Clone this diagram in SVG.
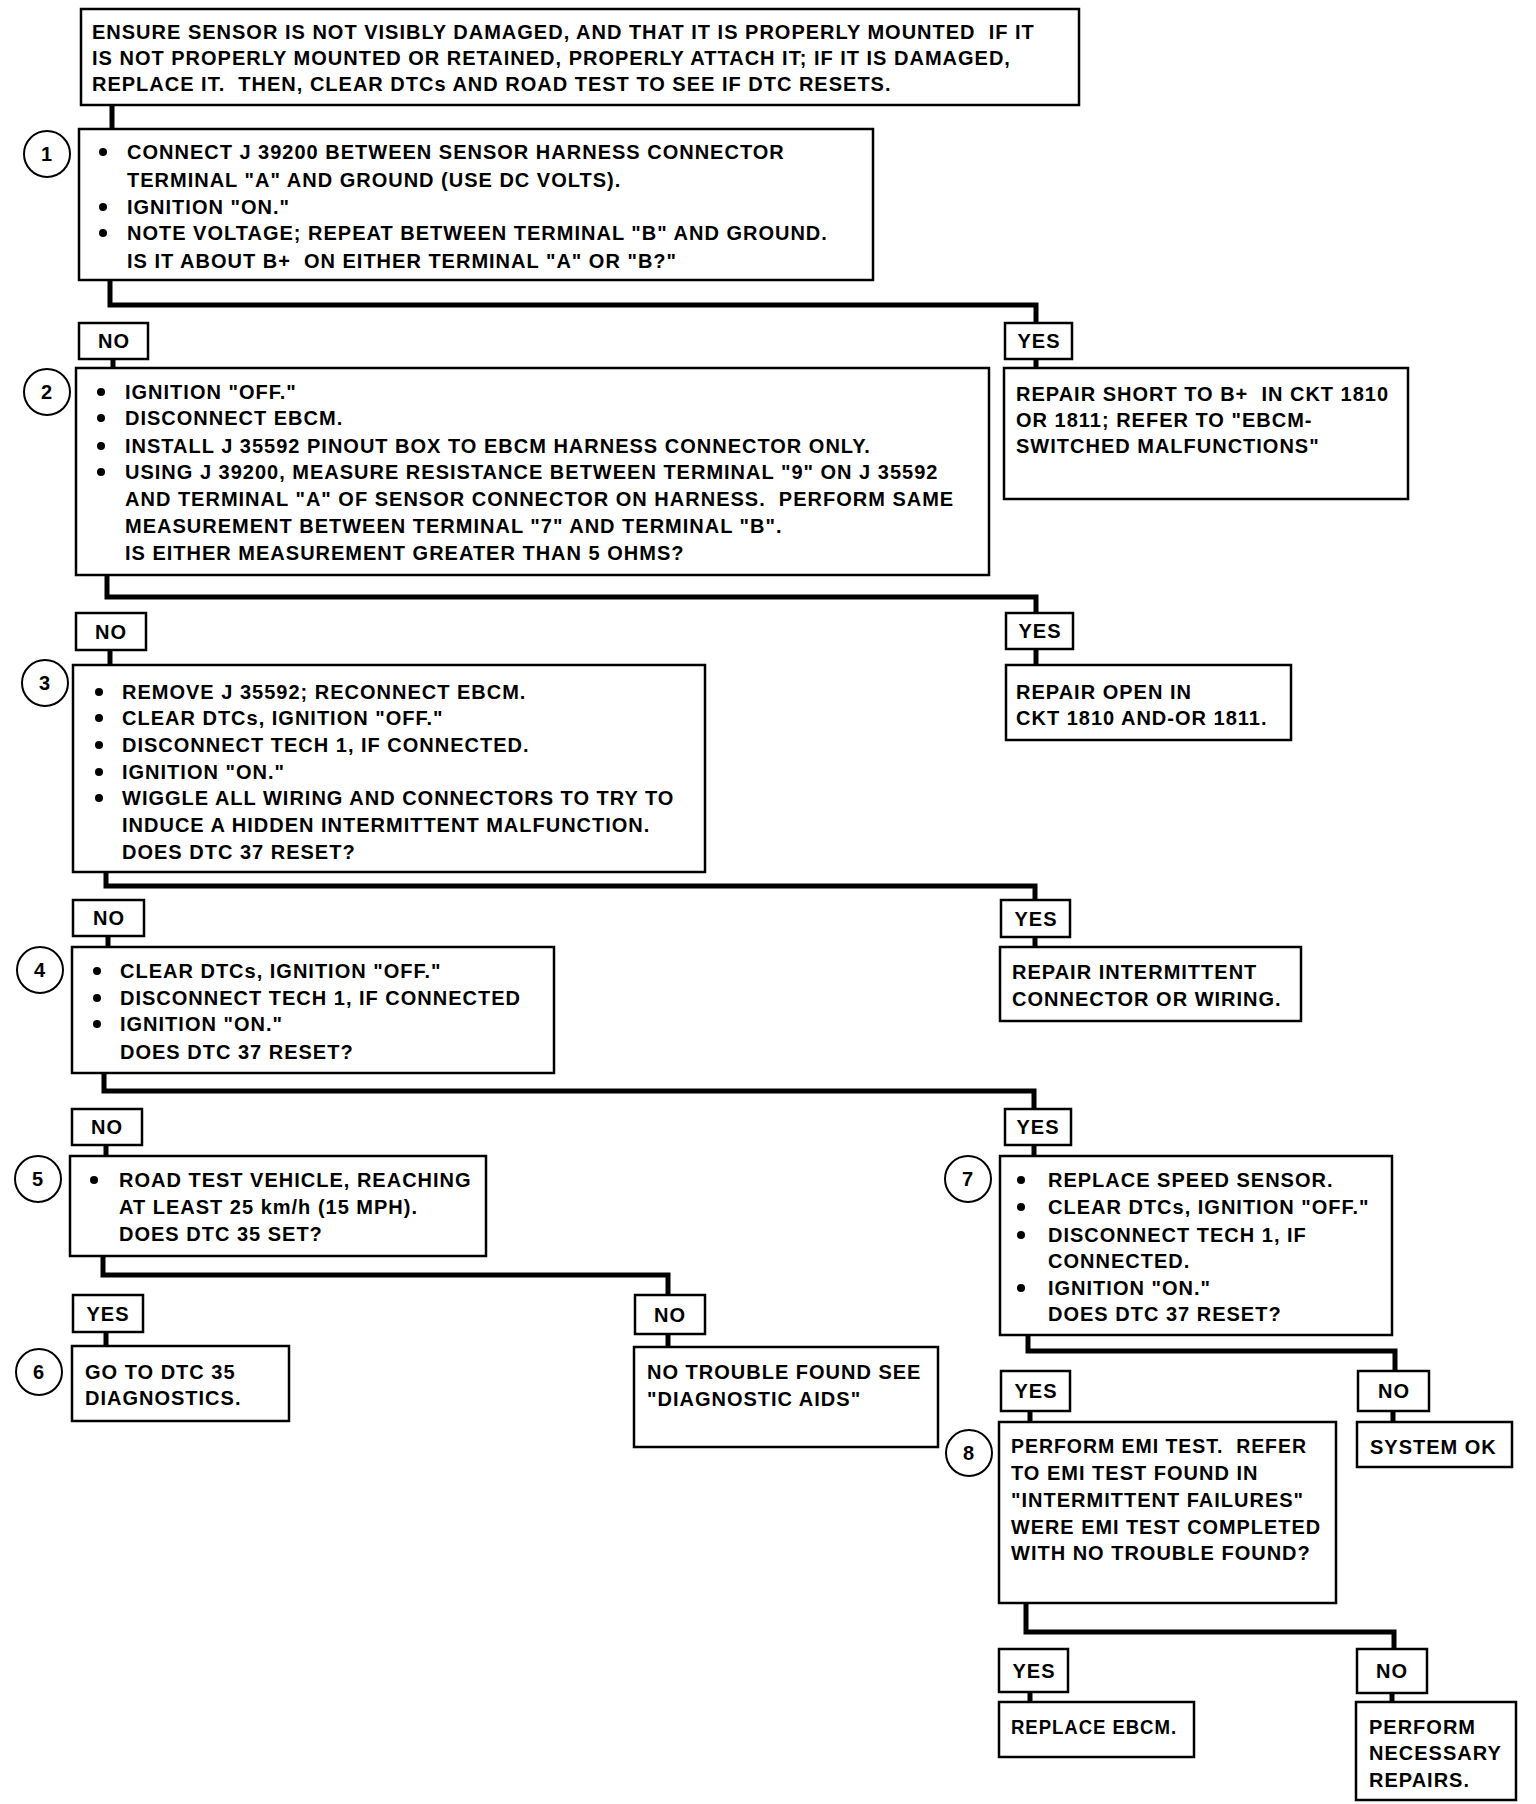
<svg xmlns="http://www.w3.org/2000/svg" width="1536" height="1804" viewBox="0 0 1536 1804" xml:space="preserve">
<style>
.box{fill:#fff;stroke:#000;stroke-width:2.5}
.lbl{fill:#fff;stroke:#000;stroke-width:2.5}
.c{fill:none;stroke:#000;stroke-width:5;stroke-linecap:square;stroke-linejoin:miter}
.t{font-family:"Liberation Sans",Arial,sans-serif;font-weight:bold;font-size:20px;letter-spacing:1px;fill:#000;white-space:pre}
.m{text-anchor:middle}
.num{fill:#fff;stroke:#000;stroke-width:2}
.b{fill:#000}
</style>
<rect width="1536" height="1804" fill="#fff"/>
<g id="connectors">
<path class="c" d="M112 105V129"/>
<path class="c" d="M110 280V305H1036V323"/>
<path class="c" d="M113 359V368"/>
<path class="c" d="M1036 359V368"/>
<path class="c" d="M107 575V597H1036V613"/>
<path class="c" d="M110 650V665"/>
<path class="c" d="M1036 649V665"/>
<path class="c" d="M106 872V886H1035V900"/>
<path class="c" d="M108 936V947"/>
<path class="c" d="M1035 937V947"/>
<path class="c" d="M104 1073V1091H1034V1109"/>
<path class="c" d="M106 1145V1156"/>
<path class="c" d="M1034 1145V1156"/>
<path class="c" d="M103 1256V1275H668V1295"/>
<path class="c" d="M106 1332V1346"/>
<path class="c" d="M668 1334V1347"/>
<path class="c" d="M1028 1335V1351H1395V1371"/>
<path class="c" d="M1030 1411V1422"/>
<path class="c" d="M1393 1411V1422"/>
<path class="c" d="M1026 1603V1632H1394V1649"/>
<path class="c" d="M1030 1692V1702"/>
<path class="c" d="M1392 1693V1702"/>
</g>
<g id="start">
<rect class="box" x="81" y="9" width="998" height="96"/>
<text class="t" x="92" y="39">ENSURE SENSOR IS NOT VISIBLY DAMAGED, AND THAT IT IS PROPERLY MOUNTED  IF IT</text>
<text class="t" x="92" y="65">IS NOT PROPERLY MOUNTED OR RETAINED, PROPERLY ATTACH IT; IF IT IS DAMAGED,</text>
<text class="t" x="92" y="91">REPLACE IT.  THEN, CLEAR DTCs AND ROAD TEST TO SEE IF DTC RESETS.</text>
</g>
<g id="step1">
<circle class="num" cx="47" cy="154" r="23"/>
<text class="t m" x="47" y="161">1</text>
<rect class="box" x="79" y="129" width="794" height="151"/>
<circle class="b" cx="103" cy="152" r="4"/>
<circle class="b" cx="103" cy="207" r="4"/>
<circle class="b" cx="103" cy="233" r="4"/>
<text class="t" x="127" y="159">CONNECT J 39200 BETWEEN SENSOR HARNESS CONNECTOR</text>
<text class="t" x="127" y="187">TERMINAL "A" AND GROUND (USE DC VOLTS).</text>
<text class="t" x="127" y="214">IGNITION "ON."</text>
<text class="t" x="127" y="240">NOTE VOLTAGE; REPEAT BETWEEN TERMINAL "B" AND GROUND.</text>
<text class="t" x="127" y="268">IS IT ABOUT B+  ON EITHER TERMINAL "A" OR "B?"</text>
</g>
<g id="no1"><rect class="lbl" x="79" y="323" width="69" height="36"/><text class="t m" x="114" y="348">NO</text></g>
<g id="yes1"><rect class="lbl" x="1005" y="323" width="67" height="36"/><text class="t m" x="1039" y="348">YES</text></g>
<g id="step2">
<circle class="num" cx="47" cy="392" r="23"/>
<text class="t m" x="47" y="399">2</text>
<rect class="box" x="76" y="368" width="913" height="207"/>
<circle class="b" cx="101" cy="392" r="4"/>
<circle class="b" cx="101" cy="418" r="4"/>
<circle class="b" cx="101" cy="446" r="4"/>
<circle class="b" cx="101" cy="472" r="4"/>
<text class="t" x="125" y="399">IGNITION "OFF."</text>
<text class="t" x="125" y="425">DISCONNECT EBCM.</text>
<text class="t" x="125" y="453">INSTALL J 35592 PINOUT BOX TO EBCM HARNESS CONNECTOR ONLY.</text>
<text class="t" x="125" y="479">USING J 39200, MEASURE RESISTANCE BETWEEN TERMINAL "9" ON J 35592</text>
<text class="t" x="125" y="506">AND TERMINAL "A" OF SENSOR CONNECTOR ON HARNESS.  PERFORM SAME</text>
<text class="t" x="125" y="533">MEASUREMENT BETWEEN TERMINAL "7" AND TERMINAL "B".</text>
<text class="t" x="125" y="560">IS EITHER MEASUREMENT GREATER THAN 5 OHMS?</text>
</g>
<g id="repairShort">
<rect class="box" x="1004" y="368" width="404" height="131"/>
<text class="t" x="1016" y="401">REPAIR SHORT TO B+  IN CKT 1810</text>
<text class="t" x="1016" y="427">OR 1811; REFER TO "EBCM-</text>
<text class="t" x="1016" y="453">SWITCHED MALFUNCTIONS"</text>
</g>
<g id="no2"><rect class="lbl" x="76" y="613" width="70" height="37"/><text class="t m" x="111" y="639">NO</text></g>
<g id="yes2"><rect class="lbl" x="1006" y="613" width="67" height="36"/><text class="t m" x="1040" y="638">YES</text></g>
<g id="step3">
<circle class="num" cx="45" cy="683" r="23"/>
<text class="t m" x="45" y="690">3</text>
<rect class="box" x="73" y="665" width="632" height="207"/>
<circle class="b" cx="99" cy="692" r="4"/>
<circle class="b" cx="99" cy="718" r="4"/>
<circle class="b" cx="99" cy="745" r="4"/>
<circle class="b" cx="99" cy="772" r="4"/>
<circle class="b" cx="99" cy="798" r="4"/>
<text class="t" x="122" y="699">REMOVE J 35592; RECONNECT EBCM.</text>
<text class="t" x="122" y="725">CLEAR DTCs, IGNITION "OFF."</text>
<text class="t" x="122" y="752">DISCONNECT TECH 1, IF CONNECTED.</text>
<text class="t" x="122" y="779">IGNITION "ON."</text>
<text class="t" x="122" y="805">WIGGLE ALL WIRING AND CONNECTORS TO TRY TO</text>
<text class="t" x="122" y="832">INDUCE A HIDDEN INTERMITTENT MALFUNCTION.</text>
<text class="t" x="122" y="859">DOES DTC 37 RESET?</text>
</g>
<g id="repairOpen">
<rect class="box" x="1006" y="665" width="285" height="75"/>
<text class="t" x="1016" y="699">REPAIR OPEN IN</text>
<text class="t" x="1016" y="725">CKT 1810 AND-OR 1811.</text>
</g>
<g id="no3"><rect class="lbl" x="73" y="900" width="71" height="36"/><text class="t m" x="109" y="925">NO</text></g>
<g id="yes3"><rect class="lbl" x="1001" y="900" width="69" height="37"/><text class="t m" x="1036" y="926">YES</text></g>
<g id="step4">
<circle class="num" cx="40" cy="970" r="23"/>
<text class="t m" x="40" y="977">4</text>
<rect class="box" x="72" y="947" width="482" height="126"/>
<circle class="b" cx="97" cy="971" r="4"/>
<circle class="b" cx="97" cy="998" r="4"/>
<circle class="b" cx="97" cy="1024" r="4"/>
<text class="t" x="120" y="978">CLEAR DTCs, IGNITION "OFF."</text>
<text class="t" x="120" y="1005">DISCONNECT TECH 1, IF CONNECTED</text>
<text class="t" x="120" y="1031">IGNITION "ON."</text>
<text class="t" x="120" y="1059">DOES DTC 37 RESET?</text>
</g>
<g id="repairIntermittent">
<rect class="box" x="1000" y="947" width="301" height="74"/>
<text class="t" x="1012" y="979">REPAIR INTERMITTENT</text>
<text class="t" x="1012" y="1006">CONNECTOR OR WIRING.</text>
</g>
<g id="no4"><rect class="lbl" x="72" y="1109" width="70" height="36"/><text class="t m" x="107" y="1134">NO</text></g>
<g id="yes4"><rect class="lbl" x="1005" y="1109" width="66" height="36"/><text class="t m" x="1038" y="1134">YES</text></g>
<g id="step5">
<circle class="num" cx="38" cy="1179" r="23"/>
<text class="t m" x="38" y="1186">5</text>
<rect class="box" x="70" y="1156" width="416" height="100"/>
<circle class="b" cx="94" cy="1180" r="4"/>
<text class="t" x="119" y="1187">ROAD TEST VEHICLE, REACHING</text>
<text class="t" x="119" y="1214">AT LEAST 25 km/h (15 MPH).</text>
<text class="t" x="119" y="1241">DOES DTC 35 SET?</text>
</g>
<g id="step7">
<circle class="num" cx="968" cy="1179" r="23"/>
<text class="t m" x="968" y="1186">7</text>
<rect class="box" x="1000" y="1156" width="392" height="179"/>
<circle class="b" cx="1021" cy="1180" r="4"/>
<circle class="b" cx="1021" cy="1207" r="4"/>
<circle class="b" cx="1021" cy="1235" r="4"/>
<circle class="b" cx="1021" cy="1288" r="4"/>
<text class="t" x="1048" y="1187">REPLACE SPEED SENSOR.</text>
<text class="t" x="1048" y="1214">CLEAR DTCs, IGNITION "OFF."</text>
<text class="t" x="1048" y="1242">DISCONNECT TECH 1, IF</text>
<text class="t" x="1048" y="1268">CONNECTED.</text>
<text class="t" x="1048" y="1295">IGNITION "ON."</text>
<text class="t" x="1048" y="1321">DOES DTC 37 RESET?</text>
</g>
<g id="yes5"><rect class="lbl" x="73" y="1295" width="70" height="37"/><text class="t m" x="108" y="1321">YES</text></g>
<g id="no5"><rect class="lbl" x="635" y="1295" width="70" height="39"/><text class="t m" x="670" y="1322">NO</text></g>
<g id="step6">
<circle class="num" cx="39" cy="1372" r="23"/>
<text class="t m" x="39" y="1379">6</text>
<rect class="box" x="72" y="1346" width="217" height="75"/>
<text class="t" x="85" y="1379">GO TO DTC 35</text>
<text class="t" x="85" y="1405">DIAGNOSTICS.</text>
</g>
<g id="noTrouble">
<rect class="box" x="634" y="1347" width="304" height="100"/>
<text class="t" x="647" y="1379">NO TROUBLE FOUND SEE</text>
<text class="t" x="647" y="1406">"DIAGNOSTIC AIDS"</text>
</g>
<g id="yes7"><rect class="lbl" x="1001" y="1371" width="69" height="40"/><text class="t m" x="1036" y="1398">YES</text></g>
<g id="no7"><rect class="lbl" x="1358" y="1371" width="71" height="40"/><text class="t m" x="1394" y="1398">NO</text></g>
<g id="step8">
<circle class="num" cx="969" cy="1453" r="23"/>
<text class="t m" x="969" y="1460">8</text>
<rect class="box" x="999" y="1422" width="337" height="181"/>
<text class="t" x="1011" y="1453" textLength="296" lengthAdjust="spacingAndGlyphs">PERFORM EMI TEST.  REFER</text>
<text class="t" x="1011" y="1480">TO EMI TEST FOUND IN</text>
<text class="t" x="1011" y="1507">"INTERMITTENT FAILURES"</text>
<text class="t" x="1011" y="1534" textLength="310" lengthAdjust="spacingAndGlyphs">WERE EMI TEST COMPLETED</text>
<text class="t" x="1011" y="1560">WITH NO TROUBLE FOUND?</text>
</g>
<g id="systemOk">
<rect class="box" x="1357" y="1422" width="155" height="45"/>
<text class="t" x="1370" y="1454">SYSTEM OK</text>
</g>
<g id="yes8"><rect class="lbl" x="999" y="1649" width="69" height="43"/><text class="t m" x="1034" y="1678">YES</text></g>
<g id="no8"><rect class="lbl" x="1357" y="1649" width="70" height="44"/><text class="t m" x="1392" y="1678">NO</text></g>
<g id="replaceEbcm">
<rect class="box" x="999" y="1702" width="195" height="55"/>
<text class="t" x="1011" y="1734" textLength="166" lengthAdjust="spacingAndGlyphs">REPLACE EBCM.</text>
</g>
<g id="performRepairs">
<rect class="box" x="1356" y="1702" width="160" height="98"/>
<text class="t" x="1369" y="1734">PERFORM</text>
<text class="t" x="1369" y="1760">NECESSARY</text>
<text class="t" x="1369" y="1787">REPAIRS.</text>
</g>
</svg>
